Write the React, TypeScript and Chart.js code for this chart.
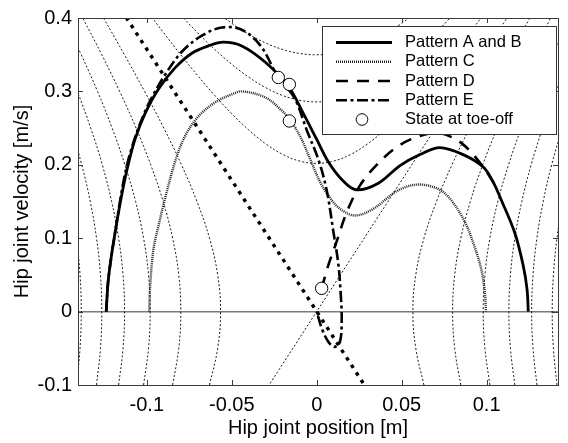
import { useEffect, useRef } from "react";
import { Chart, registerables } from "chart.js";

Chart.register(...registerables);

// ---------- data ----------
const xTicks = [-0.1, -0.05, 0, 0.05, 0.1];
const yTicks = [-0.1, 0, 0.1, 0.2, 0.3, 0.4];

// background phase-portrait contours (side families), |x| at each velocity
const contourV = [-0.1, -0.05, 0, 0.05, 0.1, 0.15, 0.2, 0.25, 0.3, 0.35, 0.4];
const sideX1 = [0.0631, 0.0583, 0.0566, 0.0583, 0.0631, 0.0705, 0.0796, 0.09, 0.1013, 0.1132, 0.1255];
const sideX2 = [0.0848, 0.0812, 0.08, 0.0812, 0.0848, 0.0904, 0.0977, 0.1063, 0.116, 0.1265, 0.1377];
const sideX3 = [0.1019, 0.099, 0.098, 0.099, 0.1019, 0.1066, 0.1129, 0.1204, 0.129, 0.1386, 0.1488];
const sideX4 = [0.1166, 0.114, 0.1131, 0.114, 0.1166, 0.1207, 0.1262, 0.133, 0.1409, 0.1497, 0.1592];
const sideX5 = [0.1296, 0.1273, 0.1265, 0.1273, 0.1296, 0.1333, 0.1383, 0.1446, 0.1519, 0.16, 0.169];
const sideX6 = [0.1414, 0.1393, 0.1386, 0.1393, 0.1414, 0.1448, 0.1495, 0.1552, 0.162, 0.1697, 0.1782];

// background contours (upper arches)
const archX = [-0.1, -0.09, -0.08, -0.07, -0.06, -0.05, -0.04, -0.03, -0.02, -0.01, 0, 0.01, 0.02, 0.03, 0.04, 0.05, 0.06, 0.07, 0.08, 0.09, 0.1];
const archV1 = [0.4102, 0.3796, 0.3499, 0.3214, 0.2944, 0.2696, 0.2474, 0.2286, 0.2142, 0.2051, 0.202, 0.2051, 0.2142, 0.2286, 0.2474, 0.2696, 0.2944, 0.3214, 0.3499, 0.3796, 0.4102];
const archV2 = [0.4573, 0.43, 0.404, 0.3796, 0.3571, 0.3369, 0.3194, 0.3051, 0.2944, 0.2879, 0.2857, 0.2879, 0.2944, 0.3051, 0.3194, 0.3369, 0.3571, 0.3796, 0.404, 0.43, 0.4573];
const archV3 = [0.4999, 0.4751, 0.4517, 0.43, 0.4102, 0.3928, 0.3779, 0.3659, 0.3571, 0.3517, 0.3499, 0.3517, 0.3571, 0.3659, 0.3779, 0.3928, 0.4102, 0.43, 0.4517, 0.4751, 0.4999];

// straight separatrices
const stableX = [-0.115, 0.03];
const stableV = [0.411, -0.107];
const unstableX = [-0.03, 0.115];
const unstableV = [-0.107, 0.411];

// trajectories
const patternAX = [-0.1239, -0.1228, -0.1212, -0.1192, -0.1155, -0.1115, -0.1069, -0.101, -0.0932, -0.0834, -0.0735, -0.0638, -0.055, -0.0441, -0.0304, -0.0167, -0.0079, 0.0, 0.0068, 0.0147, 0.023, 0.0363, 0.049, 0.0608, 0.0725, 0.0865, 0.098, 0.1035, 0.1088, 0.1166, 0.1215, 0.1238, 0.1245];
const patternAV = [0.0, 0.04, 0.07, 0.1, 0.15, 0.195, 0.235, 0.27, 0.303, 0.332, 0.352, 0.362, 0.367, 0.362, 0.34, 0.307, 0.27, 0.2345, 0.204, 0.18, 0.166, 0.175, 0.199, 0.214, 0.2235, 0.2135, 0.197, 0.178, 0.151, 0.107, 0.063, 0.03, 0.0];

const patternCX = [-0.0986, -0.098, -0.0961, -0.0932, -0.0896, -0.0834, -0.0775, -0.0696, -0.0598, -0.05, -0.044, -0.0304, -0.0206, -0.0157, -0.0098, -0.0039, 0.0019, 0.0078, 0.0137, 0.0225, 0.0333, 0.047, 0.0588, 0.0706, 0.0784, 0.0872, 0.0931, 0.097, 0.099, 0.0996];
const patternCV = [0.0, 0.036, 0.085, 0.116, 0.151, 0.204, 0.239, 0.266, 0.285, 0.296, 0.3, 0.292, 0.274, 0.261, 0.239, 0.208, 0.177, 0.155, 0.14, 0.131, 0.14, 0.164, 0.173, 0.168, 0.154, 0.122, 0.087, 0.056, 0.025, 0.0];

const patternDX = [0.0029, 0.0068, 0.0118, 0.0176, 0.0255, 0.0353, 0.047, 0.059, 0.0706, 0.08, 0.0882, 0.098, 0.104];
const patternDV = [0.0317, 0.063, 0.096, 0.135, 0.172, 0.2, 0.224, 0.238, 0.2434, 0.237, 0.2235, 0.197, 0.176];

const patternEX = [-0.1239, -0.1228, -0.1212, -0.1192, -0.1158, -0.1135, -0.1105, -0.1065, -0.1015, -0.097, -0.0892, -0.0794, -0.0676, -0.0559, -0.0441, -0.033, -0.0226, -0.0133, -0.0055, 0.001, 0.0059, 0.0098, 0.0127, 0.0141, 0.0147, 0.0137, 0.0105, 0.0068, 0.003, 0.0];
const patternEV = [0.0, 0.04, 0.07, 0.1, 0.15, 0.18, 0.21, 0.24, 0.27, 0.292, 0.323, 0.354, 0.376, 0.387, 0.384, 0.362, 0.319, 0.292, 0.245, 0.207, 0.165, 0.109, 0.065, 0.025, -0.01, -0.041, -0.048, -0.041, -0.023, 0.0];

const toeOffX = [-0.0226, -0.0161, -0.0161, 0.0029];
const toeOffV = [0.319, 0.3095, 0.2597, 0.0317];

const legendLabels = ["Pattern A and B", "Pattern C", "Pattern D", "Pattern E", "State at toe-off"];

// ---------- styles ----------
const FONT = '"Liberation Sans", Arial, Helvetica, sans-serif';
const dashA: number[] = [];
const dashC = [1, 1];
const dashD = [12, 9];
const dashE = [11, 3.5, 3, 3.5];

function pts(xs: number[], ys: number[]) {
  return xs.map((x, i) => ({ x, y: ys[i] }));
}

function fmt(v: number) {
  const r = Math.round(v * 100) / 100;
  return String(r === 0 ? 0 : r);
}

const framePlugin = {
  id: "frameAndLegend",
  afterDatasetsDraw(chart: any) {
    const { ctx, chartArea: a, scales } = chart;
    const x = scales.x;
    const y = scales.y;
    ctx.save();
    ctx.setLineDash([]);
    ctx.strokeStyle = "#3a3a3a";
    ctx.lineWidth = 1;
    ctx.beginPath();
    for (const t of xTicks) {
      const px = Math.round(x.getPixelForValue(t)) + 0.5;
      ctx.moveTo(px, a.bottom);
      ctx.lineTo(px, a.bottom - 5);
      ctx.moveTo(px, a.top);
      ctx.lineTo(px, a.top + 5);
    }
    for (const t of yTicks) {
      const py = Math.round(y.getPixelForValue(t)) + 0.5;
      ctx.moveTo(a.left, py);
      ctx.lineTo(a.left + 5, py);
      ctx.moveTo(a.right, py);
      ctx.lineTo(a.right - 5, py);
    }
    ctx.stroke();
    ctx.strokeRect(Math.round(a.left) + 0.5, Math.round(a.top) + 0.5, Math.round(a.right - a.left), Math.round(a.bottom - a.top));
    ctx.restore();
  },
  afterDraw(chart: any) {
    const { ctx, chartArea: a } = chart;
    const lx = Math.round(a.right) - 235.5;
    const ly = Math.round(a.top) + 8.5;
    const lw = 234;
    const lh = 108;
    ctx.save();
    ctx.setLineDash([]);
    ctx.fillStyle = "#ffffff";
    ctx.fillRect(lx, ly, lw, lh);
    ctx.strokeStyle = "#333333";
    ctx.lineWidth = 1;
    ctx.strokeRect(lx, ly, lw, lh);
    const x0 = lx + 13.5;
    const x1 = lx + 69.5;
    const styles = [
      { dash: dashA, w: 2.8 },
      { dash: dashC, w: 2.4 },
      { dash: dashD, w: 2.6 },
      { dash: dashE, w: 2.6 },
    ];
    ctx.font = `16.5px ${FONT}`;
    ctx.textBaseline = "middle";
    ctx.textAlign = "left";
    legendLabels.forEach((label, i) => {
      const ry = ly + 16 + i * 19.25;
      if (i < 4) {
        const s = styles[i];
        ctx.beginPath();
        ctx.setLineDash(s.dash);
        ctx.lineWidth = s.w;
        ctx.strokeStyle = i === 1 ? "#222222" : "#000000";
        ctx.moveTo(x0, ry);
        ctx.lineTo(x1, ry);
        ctx.stroke();
      } else {
        ctx.beginPath();
        ctx.setLineDash([]);
        ctx.lineWidth = 1;
        ctx.strokeStyle = "#000";
        ctx.fillStyle = "#fff";
        ctx.arc((x0 + x1) / 2 - 2, ry, 5.8, 0, Math.PI * 2);
        ctx.fill();
        ctx.stroke();
      }
      ctx.fillStyle = "#000";
      ctx.fillText(label, lx + 82.5, ry);
    });
    ctx.restore();
  },
};

export default function App() {
  const ref = useRef<HTMLCanvasElement | null>(null);

  useEffect(() => {
    if (!ref.current) return;
    const contour = {
      borderColor: "#000000",
      borderWidth: 0.9,
      borderDash: [2, 2],
      pointRadius: 0,
      tension: 0.4,
      fill: false,
      order: 20,
    };
    const datasets: any[] = [];
    [sideX1, sideX2, sideX3, sideX4, sideX5, sideX6].forEach((xs) => {
      datasets.push({ ...contour, data: pts(xs, contourV) });
      datasets.push({ ...contour, data: pts(xs.map((v) => -v), contourV) });
    });
    [archV1, archV2, archV3].forEach((vs) => {
      datasets.push({ ...contour, data: pts(archX, vs) });
    });
    datasets.push({ ...contour, tension: 0, data: pts(unstableX, unstableV) });
    datasets.push({
      data: pts(stableX, stableV),
      borderColor: "#000",
      borderWidth: 3.4,
      borderDash: [3.6, 5.4],
      pointRadius: 0,
      tension: 0,
      order: 6,
    });
    const traj = (xs: number[], vs: number[], dash: number[], w: number, color: string, order: number) => ({
      data: pts(xs, vs),
      borderColor: color,
      borderWidth: w,
      borderDash: dash,
      pointRadius: 0,
      tension: 0.35,
      fill: false,
      order,
    });
    datasets.push(traj(patternCX, patternCV, dashC, 2.4, "#222222", 5));
    datasets.push(traj(patternDX, patternDV, dashD, 2.6, "#000", 4));
    datasets.push(traj(patternEX, patternEV, dashE, 2.6, "#000", 3));
    datasets.push(traj(patternAX, patternAV, dashA, 2.8, "#000", 2));
    datasets.push({
      data: pts(toeOffX, toeOffV),
      showLine: false,
      pointRadius: 6.2,
      pointBackgroundColor: "#ffffff",
      pointBorderColor: "#000000",
      pointBorderWidth: 1,
      order: 0,
    });

    const font = { family: FONT, size: 20 };
    const chart = new Chart(ref.current, {
      type: "line",
      data: { datasets },
      options: {
        responsive: false,
        animation: false,
        devicePixelRatio: 1,
        layout: { padding: { left: 0, right: 10, top: 7, bottom: 0 } },
        plugins: { legend: { display: false }, tooltip: { enabled: false } },
        scales: {
          x: {
            type: "linear",
            min: -0.1405,
            max: 0.142,
            afterBuildTicks: (s: any) => {
              s.ticks = xTicks.map((v) => ({ value: v }));
            },
            afterFit: (s: any) => {
              s.height = 58;
            },
            grid: { display: false, drawTicks: false },
            border: { display: false },
            ticks: {
              padding: 8,
              font,
              color: "#000",
              autoSkip: false,
              maxRotation: 0,
              callback: (v: any) => fmt(Number(v)),
            },
            title: {
              display: true,
              text: "Hip joint position [m]",
              font,
              color: "#000",
              padding: { top: 0, bottom: 3 },
            },
          },
          y: {
            type: "linear",
            min: -0.1,
            max: 0.4,
            afterBuildTicks: (s: any) => {
              s.ticks = yTicks.map((v) => ({ value: v }));
            },
            afterFit: (s: any) => {
              s.width = 78;
            },
            grid: {
              drawTicks: false,
              color: (c: any) => (c.tick && Math.abs(c.tick.value) < 1e-9 ? "#7a7a7a" : "rgba(0,0,0,0)"),
              lineWidth: 1.5,
            },
            border: { display: false },
            ticks: {
              padding: 6,
              font,
              color: "#000",
              autoSkip: false,
              callback: (v: any) => fmt(Number(v)),
            },
            title: {
              display: true,
              text: "Hip joint velocity [m/s]",
              font,
              color: "#000",
              padding: { top: 10, bottom: 0 },
            },
          },
        },
      } as any,
      plugins: [framePlugin],
    });
    return () => chart.destroy();
  }, []);

  return (
    <div style={{ position: "fixed", left: 0, top: 0, width: 568, height: 443, background: "#fff" }}>
      <canvas ref={ref} width={568} height={443} style={{ display: "block" }} />
    </div>
  );
}
